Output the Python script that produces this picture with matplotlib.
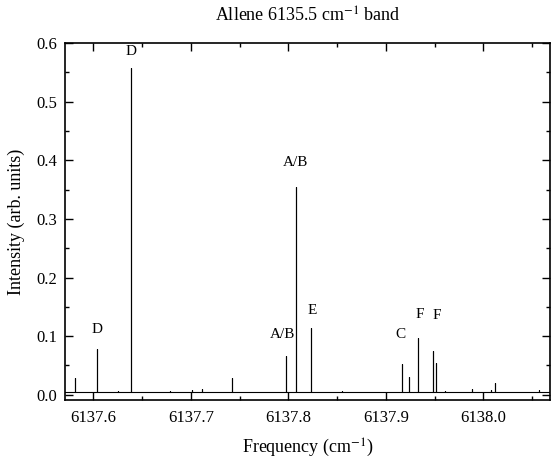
# Allene 6135.5 cm-1 band -- stick spectrum re-plot

import numpy as np
import matplotlib.pyplot as plt
from matplotlib.ticker import MultipleLocator

plt.rcParams['font.family'] = ['Liberation Serif', 'DejaVu Serif']
plt.rcParams['mathtext.fontset'] = 'stix'

#~~~~~~~~~~~~~~~~~~~~~~~~~~~~~~ Data ~~~~~~~~~~~~~~~~~~~~~~~~~~~~~~#
# peak positions (cm-1) and heights (arb. units)
peak_freq = [6137.5815, 6137.604, 6137.625, 6137.639, 6137.679, 6137.701, 6137.711,
             6137.742, 6137.797, 6137.8075, 6137.823, 6137.855, 6137.9166, 6137.924,
             6137.933, 6137.948, 6137.9515, 6137.961, 6137.988, 6138.008, 6138.012,
             6138.057]
peak_height = [0.029, 0.078, 0.006, 0.558, 0.007, 0.008, 0.009,
               0.028, 0.066, 0.355, 0.114, 0.006, 0.053, 0.031,
               0.097, 0.075, 0.054, 0.007, 0.010, 0.008, 0.020,
               0.008]
baseline = 0.004
freq_range = [6137.571, 6138.068]

# assignment labels
label_text = ['D', 'D', 'A/B', 'A/B', 'E', 'C', 'F', 'F']
label_freq = [6137.604, 6137.639, 6137.794, 6137.8075, 6137.824, 6137.9145, 6137.935, 6137.952]
label_int = [0.100, 0.575, 0.092, 0.385, 0.132, 0.092, 0.126, 0.124]

#~~~~~~~~~~~~~~~~~~~~~~~~~~~~~~ Build trace ~~~~~~~~~~~~~~~~~~~~~~~~~~~~~~#
x = [freq_range[0]]
y = [baseline]
for f, h in zip(peak_freq, peak_height):
    x += [f, f, f]
    y += [baseline, h, baseline]
x.append(freq_range[1])
y.append(baseline)

#~~~~~~~~~~~~~~~~~~~~~~~~~~~~~~ Plot ~~~~~~~~~~~~~~~~~~~~~~~~~~~~~~#
fig = plt.figure(figsize=(5.52, 4.63), dpi=100)
ax = fig.add_axes([0.118, 0.136, 0.878, 0.771])

ax.plot(x, y, color='black', linewidth=0.8)

for t, f, v in zip(label_text, label_freq, label_int):
    ax.text(f, v, t, ha='center', va='bottom', fontsize=11)

ax.set_xlim(freq_range)
ax.set_ylim(-0.009, 0.6)
ax.xaxis.set_major_locator(MultipleLocator(0.1))
ax.xaxis.set_minor_locator(MultipleLocator(0.05))
ax.yaxis.set_major_locator(MultipleLocator(0.1))
ax.yaxis.set_minor_locator(MultipleLocator(0.05))
ax.xaxis.set_major_formatter(plt.FormatStrFormatter('%.1f'))
ax.yaxis.set_major_formatter(plt.FormatStrFormatter('%.1f'))
ax.tick_params(which='both', direction='in', top=True, right=True, labelsize=12)
ax.tick_params(which='major', length=6, width=1)
ax.tick_params(which='minor', length=3, width=1)
ax.tick_params(axis='x', which='major', pad=7)
ax.tick_params(axis='y', which='major', pad=6)
for s in ax.spines.values():
    s.set_linewidth(1.2)

ax.set_xlabel(r'Frequency (cm$^{-1}$)', fontsize=13, labelpad=8)
ax.set_ylabel('Intensity (arb. units)', fontsize=13, labelpad=8)
ax.set_title(r'Allene 6135.5 cm$^{-1}$ band', fontsize=13, pad=15)

plt.savefig('out.png', dpi=100)
